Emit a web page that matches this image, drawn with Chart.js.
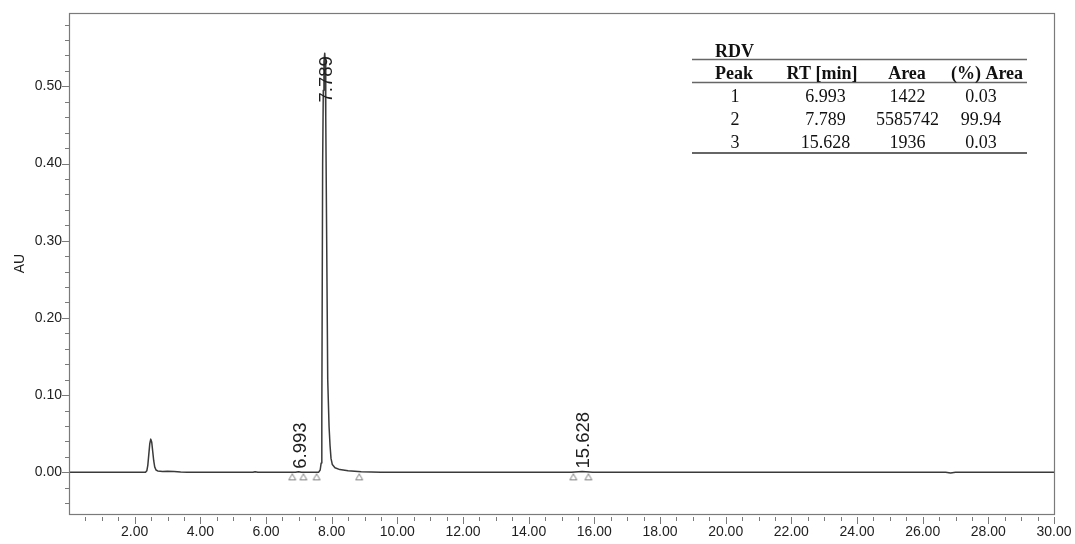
<!DOCTYPE html>
<html>
<head>
<meta charset="utf-8">
<script src="https://cdn.jsdelivr.net/npm/chart.js@4.4.1/dist/chart.umd.min.js"></script>
<style>
  html, body { margin: 0; padding: 0; background: #fff; }
  canvas { display: block; }
</style>
</head>
<body>
<canvas id="chrom" width="1075" height="544"></canvas>
<script>
// Chromatogram trace: retention time (min) and detector response (AU)
const rtMinutes = [
  0.00, 1.00, 2.00, 2.33, 2.37, 2.40, 2.43, 2.46, 2.49, 2.52, 2.55, 2.58,
  2.61, 2.65, 2.70, 2.85, 3.00, 3.20, 3.40, 3.60, 4.50, 5.60, 5.67, 5.75, 6.50,
  6.90, 6.99, 7.08, 7.50, 7.60, 7.65, 7.68, 7.70, 7.725, 7.745, 7.765,
  7.789, 7.80, 7.82, 7.88, 7.92, 7.95, 7.98, 8.02, 8.10, 8.25,
  8.50, 8.90, 9.50, 12.00, 15.30, 15.628, 15.95, 20.00, 24.00, 26.70, 26.85, 27.00, 29.00, 30.00
];
const absorbance = [
  0.0000, 0.0000, 0.0000, 0.0000, 0.0020, 0.0090, 0.0230, 0.0370, 0.0430, 0.0390, 0.0270, 0.0150,
  0.0070, 0.0030, 0.0018, 0.0012, 0.0014, 0.0010, 0.0003, 0.0000, 0.0000, 0.0000, 0.0007, 0.0000, 0.0000,
  0.0000, 0.0008, 0.0000, 0.0000, 0.0000, 0.0030, 0.0120, 0.0700, 0.4000, 0.4950, 0.5320,
  0.5430, 0.5350, 0.4600, 0.1200, 0.0600, 0.0350, 0.0180, 0.0100, 0.0060, 0.0035,
  0.0020, 0.0008, 0.0000, 0.0000, 0.0000, 0.0010, 0.0000, 0.0000, 0.0000, 0.0000, -0.0008, 0.0000, 0.0000, 0.0000
];

// Integration results
const sampleName = 'RDV';
const tableHeaders = ['Peak', 'RT [min]', 'Area', '(%) Area'];
const peakNumbers = [1, 2, 3];
const peakRt = [6.993, 7.789, 15.628];
const peakArea = [1422, 5585742, 1936];
const peakAreaPct = [0.03, 99.94, 0.03];

// Peak start / end markers (min)
const markerRt = [6.80, 7.14, 7.54, 8.84, 15.36, 15.82];

// Axis ticks
const xTickValues = [2, 4, 6, 8, 10, 12, 14, 16, 18, 20, 22, 24, 26, 28, 30];
const yTickValues = [0.00, 0.10, 0.20, 0.30, 0.40, 0.50];

const AXIS_GRAY = '#7a7a7a';
const TEXT = '#1e1e1e';

// Hollow up-triangle drawn in the lower half of the sprite, so it sits just under the baseline
function makeMarkerSprite() {
  const c = document.createElement('canvas');
  c.width = 10; c.height = 18;
  const g = c.getContext('2d');
  g.strokeStyle = '#808080';
  g.lineWidth = 1;
  g.beginPath();
  g.moveTo(5, 10.5);
  g.lineTo(1.5, 16.5);
  g.lineTo(8.5, 16.5);
  g.closePath();
  g.stroke();
  return c;
}

function zeroPadding(s) {
  s.paddingTop = 0; s.paddingBottom = 0; s.paddingLeft = 0; s.paddingRight = 0;
}

const framePlugin = {
  id: 'frame',
  afterDraw(chart) {
    const { ctx, chartArea: a } = chart;
    ctx.save();
    ctx.strokeStyle = AXIS_GRAY;
    ctx.lineWidth = 1.2;
    ctx.strokeRect(Math.round(a.left) + 0.5, Math.round(a.top) + 0.5,
      Math.round(a.right - a.left), Math.round(a.bottom - a.top));
    ctx.restore();
  }
};

// Major / minor tick marks on both axes
const tickMarksPlugin = {
  id: 'tickMarks',
  afterDraw(chart) {
    const { ctx, chartArea: a } = chart;
    const xs = chart.scales.x, ys = chart.scales.y;
    ctx.save();
    ctx.strokeStyle = AXIS_GRAY;
    ctx.lineWidth = 1;
    ctx.beginPath();
    for (let i = 1; i <= 60; i++) {
      const v = i * 0.5;
      const major = xTickValues.includes(v);
      const px = Math.round(xs.getPixelForValue(v)) + 0.5;
      const y0 = a.bottom + 3;
      ctx.moveTo(px, y0);
      ctx.lineTo(px, y0 + (major ? 7 : 4));
    }
    for (let i = -2; i <= 29; i++) {
      const v = i * 0.02;
      const major = yTickValues.some(t => Math.abs(t - v) < 1e-9);
      const py = Math.round(ys.getPixelForValue(v)) + 0.5;
      ctx.moveTo(a.left, py);
      ctx.lineTo(a.left - (major ? 7 : 4), py);
    }
    ctx.stroke();
    ctx.restore();
  }
};

// Retention-time labels written vertically over each integrated peak
const peakLabelPlugin = {
  id: 'peakLabels',
  afterDatasetsDraw(chart) {
    const { ctx, chartArea: a } = chart;
    const xs = chart.scales.x, ys = chart.scales.y;
    ctx.save();
    ctx.font = '18.5px "Liberation Sans", Arial, sans-serif';
    ctx.fillStyle = TEXT;
    ctx.textBaseline = 'middle';
    peakRt.forEach(rt => {
      let apex = 0;
      rtMinutes.forEach((t, i) => { if (Math.abs(t - rt) < 0.06) apex = Math.max(apex, absorbance[i]); });
      const label = rt.toFixed(3);
      const w = ctx.measureText(label).width;
      const px = xs.getPixelForValue(rt) + 2;
      const py = ys.getPixelForValue(apex);
      ctx.save();
      if (py - 4 - w < a.top) {
        ctx.translate(px, py + 3);
        ctx.rotate(-Math.PI / 2);
        ctx.textAlign = 'right';
      } else {
        ctx.translate(px, py - 3);
        ctx.rotate(-Math.PI / 2);
        ctx.textAlign = 'left';
      }
      ctx.fillText(label, 0, 0);
      ctx.restore();
    });
    ctx.restore();
  }
};

// Peak table in the upper right corner
const peakTablePlugin = {
  id: 'peakTable',
  afterDraw(chart) {
    const { ctx } = chart;
    const left = 692, right = 1027;
    const headCenters = [734, 822, 907, 987];
    const cellCenters = [735, 825.5, 907.5, 981];
    ctx.save();
    ctx.fillStyle = '#111';
    ctx.font = 'bold 18px "Liberation Serif", "Times New Roman", serif';
    ctx.textAlign = 'left';
    ctx.textBaseline = 'alphabetic';
    ctx.fillText(sampleName, 715, 57);

    ctx.strokeStyle = '#666';
    ctx.lineWidth = 1.3;
    ctx.beginPath();
    ctx.moveTo(left, 59.5); ctx.lineTo(right, 59.5);
    ctx.moveTo(left, 82.5); ctx.lineTo(right, 82.5);
    ctx.stroke();
    ctx.lineWidth = 2;
    ctx.beginPath();
    ctx.moveTo(left, 153); ctx.lineTo(right, 153);
    ctx.stroke();

    ctx.textAlign = 'center';
    tableHeaders.forEach((h, i) => ctx.fillText(h, headCenters[i], 79));

    ctx.font = '18px "Liberation Serif", "Times New Roman", serif';
    peakNumbers.forEach((n, r) => {
      const y = 102 + r * 23;
      const cells = [String(n), peakRt[r].toFixed(3), String(peakArea[r]), peakAreaPct[r].toFixed(2)];
      cells.forEach((c, i) => ctx.fillText(c, cellCenters[i], y));
    });
    ctx.restore();
  }
};

const tracePoints = rtMinutes.map((t, i) => ({ x: t, y: absorbance[i] }));
const markerPoints = markerRt.map(t => ({ x: t, y: 0 }));

new Chart(document.getElementById('chrom'), {
  type: 'scatter',
  data: {
    datasets: [
      {
        label: 'RDV',
        data: tracePoints,
        showLine: true,
        borderColor: '#3a3a3a',
        borderWidth: 1.5,
        borderJoinStyle: 'round',
        borderCapStyle: 'round',
        pointRadius: 0,
        tension: 0,
        fill: false
      },
      {
        label: 'markers',
        data: markerPoints,
        showLine: false,
        pointStyle: makeMarkerSprite(),
        pointRadius: 5
      }
    ]
  },
  options: {
    responsive: false,
    animation: false,
    devicePixelRatio: 1,
    layout: { padding: { top: 13, right: 21, left: 0, bottom: 0 } },
    plugins: {
      legend: { display: false },
      tooltip: { enabled: false }
    },
    scales: {
      x: {
        type: 'linear',
        min: 0,
        max: 30,
        afterBuildTicks: s => { s.ticks = xTickValues.map(v => ({ value: v })); },
        afterFit: s => { s.height = 30; zeroPadding(s); },
        grid: { display: false, drawTicks: false },
        border: { display: false },
        ticks: {
          padding: 10,
          color: TEXT,
          maxRotation: 0,
          autoSkip: false,
          font: { family: '"Liberation Sans", Arial, sans-serif', size: 14 },
          callback: v => Number(v).toFixed(2)
        }
      },
      y: {
        type: 'linear',
        min: -0.054,
        max: 0.595,
        afterBuildTicks: s => { s.ticks = yTickValues.map(v => ({ value: v })); },
        afterFit: s => { s.width = 69; zeroPadding(s); },
        grid: { display: false, drawTicks: false },
        border: { display: false },
        title: {
          display: true,
          text: 'AU',
          color: TEXT,
          padding: { top: 12, bottom: 0 },
          font: { family: '"Liberation Sans", Arial, sans-serif', size: 14 }
        },
        ticks: {
          padding: 7,
          color: TEXT,
          autoSkip: false,
          font: { family: '"Liberation Sans", Arial, sans-serif', size: 14 },
          callback: v => Number(v).toFixed(2)
        }
      }
    }
  },
  plugins: [framePlugin, tickMarksPlugin, peakLabelPlugin, peakTablePlugin]
});
</script>
</body>
</html>
